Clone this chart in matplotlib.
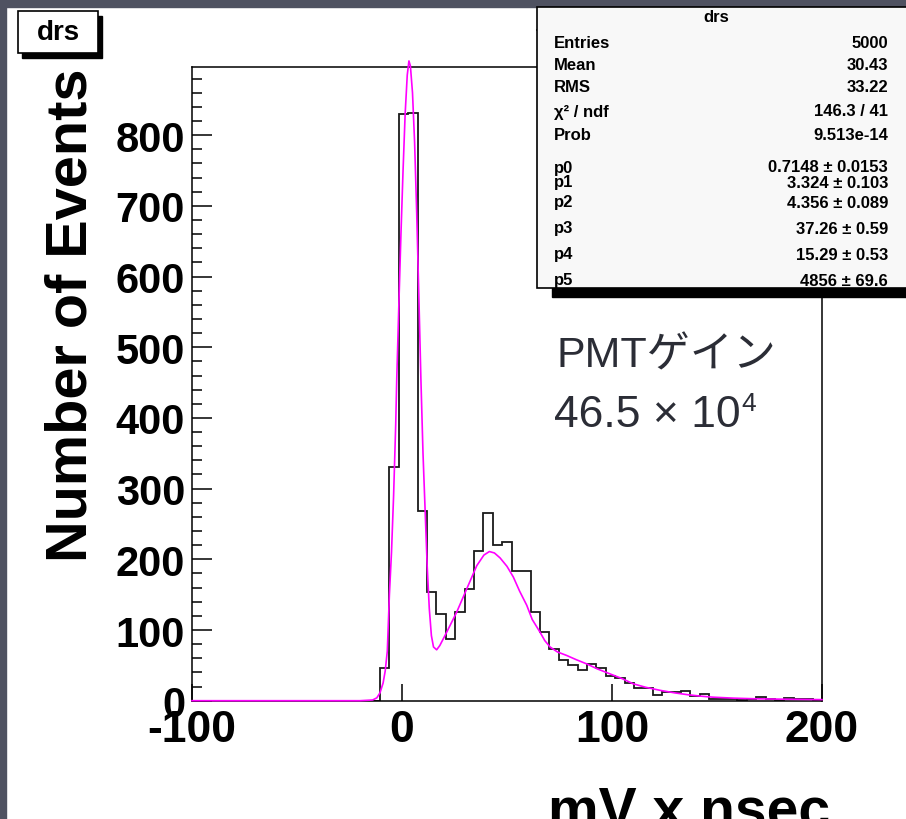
import matplotlib
matplotlib.use('Agg')
import matplotlib.pyplot as plt
from matplotlib.patches import Rectangle
from matplotlib.lines import Line2D
import numpy as np

plt.rcParams['font.family'] = ['Liberation Sans', 'DejaVu Sans']
plt.rcParams['axes.unicode_minus'] = False

# histogram "drs": 67 bins between -100 and 200 mV x nsec
x_range = [-100, 200]
n_bins = 67
counts = [0] * 20 + [46, 331, 830, 832, 269, 154, 122, 87, 125, 158, 212, 265, 220, 224, 183, 183,
                     125, 97, 73, 57, 51, 44, 52, 46, 35, 32, 25, 18, 18, 8, 12, 12, 14, 6, 10, 3,
                     2, 2, 1, 2, 5, 3, 1, 4, 3, 2, 1]

# fit curve
fit_x = [-100, -20, -14, -12, -10.5, -9, -8, -7, -6, -5, -4, -3, -2.5, -1.5, -0.5, 0.5, 1.5, 2.5,
         3.3, 4, 5, 6, 7, 8, 9, 10, 11, 12, 13, 14, 15, 16.5, 18, 21.3, 26, 30.8, 35.6, 39, 41.6,
         44, 46.7, 50, 53, 56, 59.4, 62, 65.7, 68, 70.5, 74, 78.4, 83, 88, 93, 99, 105, 110, 116,
         123, 130, 136, 142, 148, 158, 167, 180, 200]
fit_y = [0, 0, 1, 4, 11, 25, 42, 70, 150, 210, 290, 390, 455, 560, 660, 750, 830, 885,
         905, 898, 860, 790, 690, 575, 455, 350, 270, 190, 130, 92, 76, 72, 78, 97, 125, 158, 191, 206, 211,
         209, 202, 190, 175, 155, 135, 115, 97, 85, 76, 69, 64, 58, 52, 45, 38, 31, 24, 19,
         14.6, 11, 8.5, 6.5, 5, 3.6, 2.8, 2.2, 1.5]

x_ticks = [-100, 0, 100, 200]
y_ticks = [0, 100, 200, 300, 400, 500, 600, 700, 800]

stat_names = ['Entries', 'Mean', 'RMS', 'χ² / ndf', 'Prob', 'p0', 'p1', 'p2', 'p3', 'p4', 'p5']
stat_values = ['5000', '30.43', '33.22', '146.3 / 41', '9.513e-14', '0.7148 ± 0.0153',
               '3.324 ± 0.103', '4.356 ± 0.089', '37.26 ± 0.59', '15.29 ± 0.53', '4856 ± 69.6']

W, H = 906, 820
def fx(px):
    return px / W
def fy(py):
    return 1 - py / H

fig = plt.figure(figsize=(W / 100, H / 100), dpi=100, facecolor='white')
ax = fig.add_axes([fx(192), fy(701.7), (822 - 192) / W, (701.7 - 68.3) / H])

edges = np.linspace(x_range[0], x_range[1], n_bins + 1)
ax.stairs(counts, edges, color='#1a1a1a', lw=1.3, baseline=0)
ax.plot(fit_x, fit_y, color='#ff00ff', lw=1.2, clip_on=False, zorder=3)

ax.set_xlim(x_range)
ax.set_ylim(0, 896)
ax.set_xticks(x_ticks)
ax.set_yticks(y_ticks)
ax.set_yticks(np.arange(0, 896, 20), minor=True)
ax.tick_params(axis='y', which='major', direction='in', length=14.4, width=1.1, labelsize=30, pad=5)
ax.tick_params(axis='y', which='minor', direction='in', length=7.2, width=1.1)
ax.tick_params(axis='x', which='major', direction='in', length=12, width=1.1, labelsize=32, pad=6)
for lbl in ax.get_xticklabels() + ax.get_yticklabels():
    lbl.set_fontweight('bold')
for sp in ax.spines.values():
    sp.set_linewidth(1.1)

# slide background strips
fig.patches.append(Rectangle((0, 0), fx(6), 1, transform=fig.transFigure, color='#4f5261', zorder=1))
fig.patches.append(Rectangle((0, fy(8)), 1, 8 / H, transform=fig.transFigure, color='#4f5261', zorder=1))

# stats box
fig.patches.append(Rectangle((fx(552), fy(298)), (930 - 552) / W, (298 - 17) / H,
                             transform=fig.transFigure, color='black', zorder=2))
fig.patches.append(Rectangle((fx(537), fy(289)), (930 - 537) / W, (289 - 8) / H,
                             transform=fig.transFigure, facecolor='#f8f8f8', edgecolor='black',
                             lw=1.2, zorder=2))
fig.lines.append(Line2D([fx(537), 1], [fy(31), fy(31)], transform=fig.transFigure,
                        color='black', lw=1.2, zorder=2))
fig.text(fx(716), fy(17), 'drs', ha='center', va='center', fontsize=12, fontweight='bold', zorder=4)
row_y = [43, 65, 88, 112, 136, 168, 183, 203, 229, 255, 281]
for name, val, py in zip(stat_names, stat_values, row_y):
    fig.text(fx(554), fy(py), name, ha='left', va='center', fontsize=12, fontweight='bold', zorder=4)
    fig.text(fx(888), fy(py), val, ha='right', va='center', fontsize=12, fontweight='bold', zorder=4)

# title box
fig.patches.append(Rectangle((fx(22), fy(59)), 80 / W, 42 / H, transform=fig.transFigure,
                             color='black', zorder=2))
fig.patches.append(Rectangle((fx(18), fy(54)), 80 / W, 42 / H, transform=fig.transFigure,
                             facecolor='white', edgecolor='black', lw=1.2, zorder=2))
fig.text(fx(58), fy(33), 'drs', ha='center', va='center', fontsize=20, fontweight='bold', zorder=4)

# axis titles
fig.text(fx(72), fy(68), 'Number of Events', rotation=90, ha='center', va='top',
         fontsize=41.5, fontweight='bold')
fig.text(fx(830), fy(828), 'mV x nsec', ha='right', va='baseline', fontsize=41, fontweight='bold')

# annotation
jp = ['Liberation Sans', 'Noto Sans CJK JP', 'DejaVu Sans']
ink = '#2b2d36'
fig.text(fx(557), fy(367), 'PMTゲイン', fontsize=31, family=jp, color=ink, va='baseline')
gain = fig.text(fx(554), fy(427), '46.5 × 10', fontsize=32, family=jp, color=ink, va='baseline')
fig.canvas.draw()
bb = gain.get_window_extent()
fig.text(bb.x1 / W + 1 / W, fy(411), '4', fontsize=19, family=jp, color=ink, va='baseline')

fig.savefig('out.png', dpi=100, facecolor='white')
